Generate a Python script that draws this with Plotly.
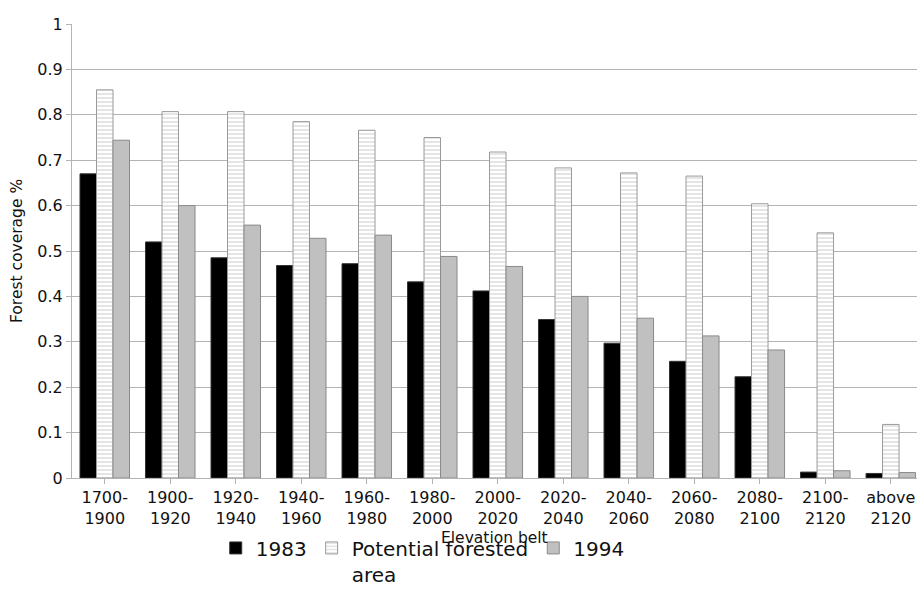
import plotly.graph_objects as go

categories = ["1700-<br>1900", "1900-<br>1920", "1920-<br>1940", "1940-<br>1960", "1960-<br>1980",
              "1980-<br>2000", "2000-<br>2020", "2020-<br>2040", "2040-<br>2060", "2060-<br>2080",
              "2080-<br>2100", "2100-<br>2120", "above<br>2120"]
y1983 = [0.670, 0.520, 0.485, 0.468, 0.472, 0.432, 0.412, 0.349, 0.297, 0.257, 0.223, 0.013, 0.010]
potential = [0.855, 0.807, 0.807, 0.785, 0.766, 0.750, 0.718, 0.683, 0.672, 0.665, 0.604, 0.540, 0.118]
y1994 = [0.744, 0.600, 0.557, 0.528, 0.535, 0.488, 0.466, 0.400, 0.352, 0.313, 0.282, 0.016, 0.012]
yticks = [0, 0.1, 0.2, 0.3, 0.4, 0.5, 0.6, 0.7, 0.8, 0.9, 1]
yticklabels = ["0", "0.1", "0.2", "0.3", "0.4", "0.5", "0.6", "0.7", "0.8", "0.9", "1"]
x_title = "Elevation belt"
y_title = "Forest coverage %"

fig = go.Figure()
fig.add_trace(go.Bar(x=categories, y=y1983, name="1983",
                     marker=dict(color="#000000", line=dict(color="#333333", width=1))))
fig.add_trace(go.Bar(x=categories, y=potential, name="Potential forested<br>area",
                     marker=dict(color="#ffffff", line=dict(color="#9a9a9a", width=1),
                                 pattern=dict(shape="-", size=4, solidity=0.3,
                                              fgcolor="#a8a8a8", bgcolor="#ffffff"))))
fig.add_trace(go.Bar(x=categories, y=y1994, name="1994",
                     marker=dict(color="#c0c0c0", line=dict(color="#8a8a8a", width=1))))

fig.add_annotation(text=x_title, xref="paper", yref="paper", x=0.5, y=-0.132,
                   xanchor="center", yanchor="middle", showarrow=False,
                   font=dict(size=15.5, family="DejaVu Sans", color="#111111"))
fig.add_annotation(text=y_title, xref="paper", yref="paper", x=-0.0651, y=0.5,
                   xanchor="center", yanchor="middle", showarrow=False, textangle=-90,
                   font=dict(size=15.5, family="DejaVu Sans", color="#111111"))

fig.update_layout(
    width=917, height=606,
    margin=dict(l=72, r=0, t=24, b=128),
    paper_bgcolor="white", plot_bgcolor="white",
    barmode="group", bargap=0.244, bargroupgap=0,
    font=dict(family="DejaVu Sans", color="#111111"),
    showlegend=True,
    legend=dict(orientation="h", xref="container", x=0.461, xanchor="center",
                yref="container", y=0.128, yanchor="top",
                font=dict(size=20), traceorder="normal", valign="top",
                itemwidth=30, tracegroupgap=0),
    xaxis=dict(type="category", range=[-0.5, 12.4], automargin=False,
               tickfont=dict(size=16), showline=True, linecolor="#b3b3b3",
               ticks="outside", ticklen=5, tickcolor="#b3b3b3"),
    yaxis=dict(range=[0, 1], tickvals=yticks, ticktext=yticklabels, automargin=False,
               tickfont=dict(size=16), showline=True, linecolor="#b3b3b3",
               gridcolor="#b3b3b3", ticks="outside", ticklen=5, tickcolor="#b3b3b3",
               zeroline=False),
)

fig.write_html("out.html", config={"displayModeBar": False},
               post_script="document.body.style.margin='0px';")
